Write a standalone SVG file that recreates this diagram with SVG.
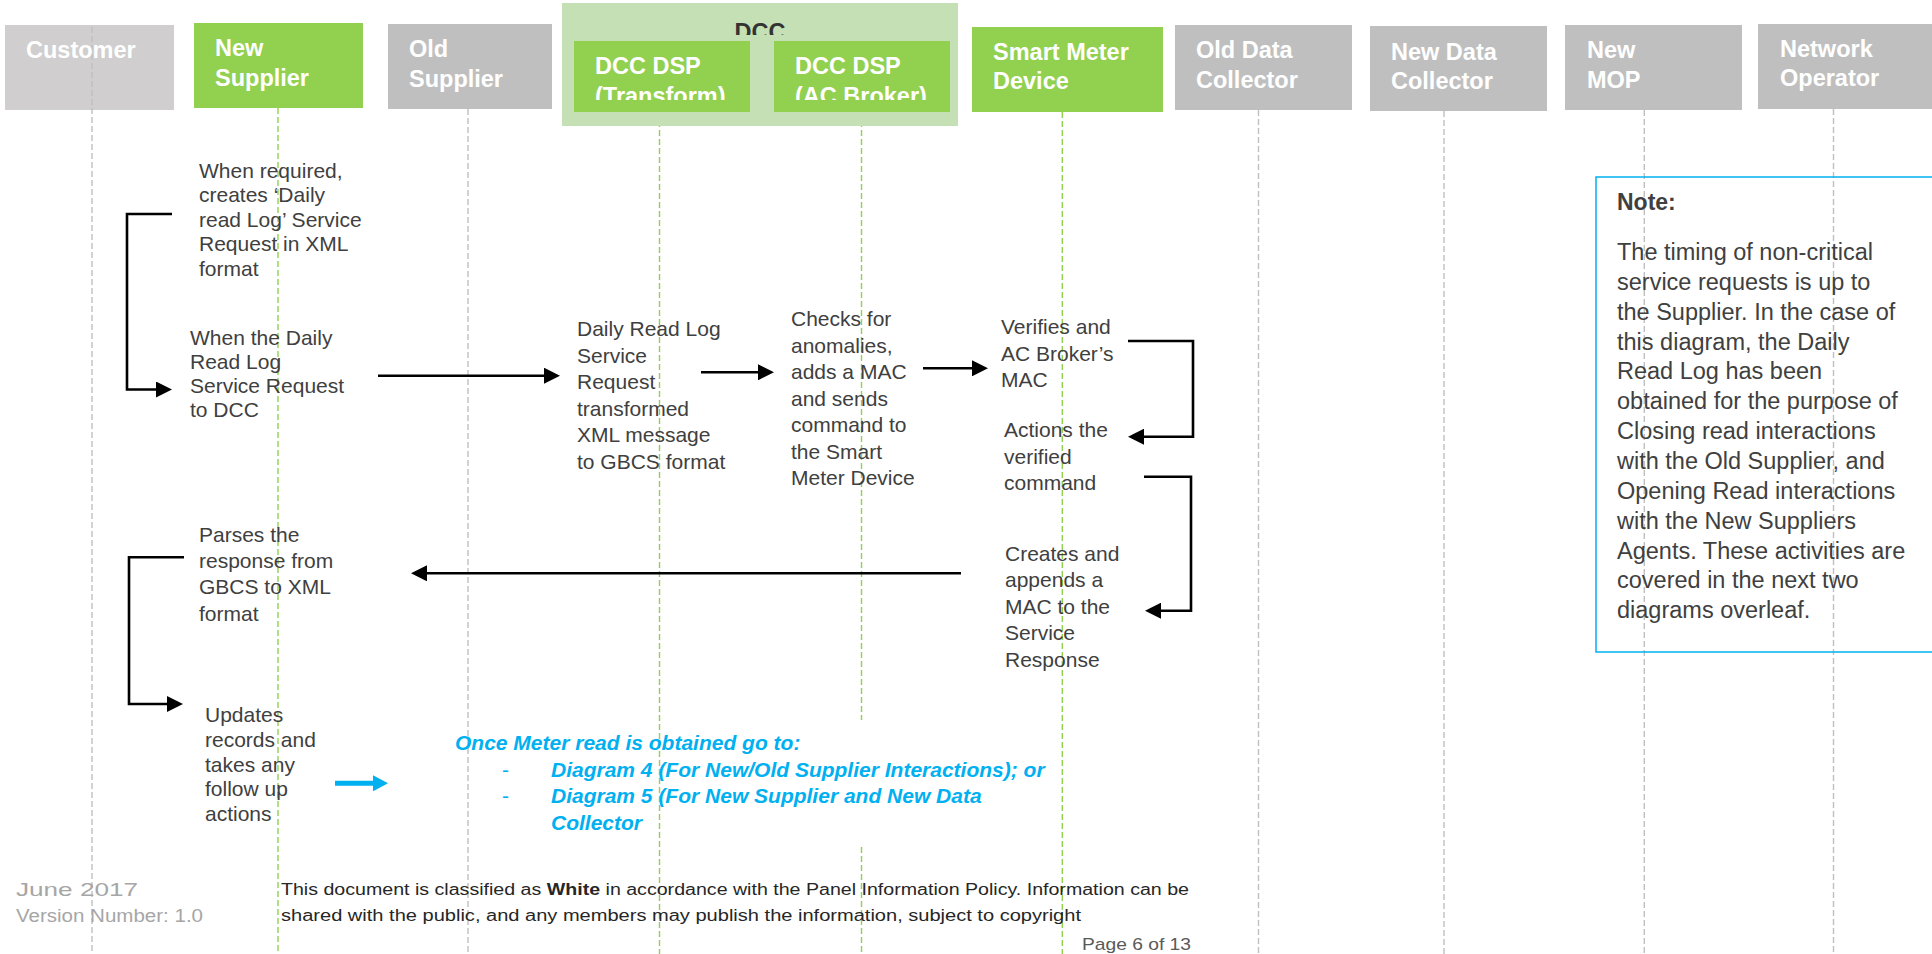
<svg xmlns="http://www.w3.org/2000/svg" width="1932" height="954" viewBox="0 0 1932 954">
<style>
.hdr{font-family:"Liberation Sans",Arial,sans-serif;font-weight:bold;font-size:23.5px;fill:#FFFFFF}
.body{font-family:"Liberation Sans",Arial,sans-serif;font-size:21px;fill:#404040}
.note{font-family:"Liberation Sans",Arial,sans-serif;font-size:23.5px;fill:#404040}
.blue{font-family:"Liberation Sans",Arial,sans-serif;font-size:21px;font-weight:bold;font-style:italic;fill:#00B0F0}
.foot{font-family:"Liberation Sans",Arial,sans-serif;font-size:16px}
.ll-g{stroke:#92D050;stroke-width:1.4;stroke-dasharray:6,3;fill:none}
.ll-x{stroke:#BFBFBF;stroke-width:1.4;stroke-dasharray:6,3;fill:none}
.arr{stroke:#000;stroke-width:2.6;fill:none;marker-end:url(#ah)}
</style>
<defs>
<marker id="ah" markerUnits="userSpaceOnUse" markerWidth="16" markerHeight="16" refX="8" refY="8" orient="auto">
<path d="M0,0 L16,8 L0,16 z" fill="#000"/>
</marker>
<marker id="ahb" markerUnits="userSpaceOnUse" markerWidth="16" markerHeight="16" refX="8" refY="8" orient="auto">
<path d="M0,0 L15,8 L0,16 z" fill="#00B0F0"/>
</marker>
<clipPath id="clipDcc"><rect x="562" y="0" width="396" height="35"/></clipPath>
<clipPath id="clipT"><rect x="574" y="41" width="176" height="59"/></clipPath>
<clipPath id="clipA"><rect x="774" y="41" width="176" height="59"/></clipPath>
</defs>
<rect width="1932" height="954" fill="#FFFFFF"/>

<g id="lifelines">
<line class="ll-x" x1="92" y1="27" x2="92" y2="954"/>
<line class="ll-g" x1="278" y1="108" x2="278" y2="954"/>
<line class="ll-x" x1="468" y1="109" x2="468" y2="954"/>
<line class="ll-g" x1="659.5" y1="112" x2="659.5" y2="954"/>
<line class="ll-g" x1="861.5" y1="112" x2="861.5" y2="720"/>
<line class="ll-g" x1="861.5" y1="847" x2="861.5" y2="954"/>
<line class="ll-g" x1="1062.3" y1="112" x2="1062.3" y2="954"/>
<line class="ll-x" x1="1258.5" y1="110" x2="1258.5" y2="954"/>
<line class="ll-x" x1="1444" y1="111" x2="1444" y2="954"/>
<line class="ll-x" x1="1644.3" y1="110" x2="1644.3" y2="954"/>
<line class="ll-x" x1="1833.5" y1="109" x2="1833.5" y2="954"/>
</g>

<g id="customer">
<rect x="5" y="25" width="169" height="85" fill="#D0CECE"/>
<line class="ll-x" x1="92" y1="27" x2="92" y2="110"/>
<text class="hdr" x="26" y="58">Customer</text>
</g>
<g id="new-supplier">
<rect x="194" y="23" width="169" height="85" fill="#92D050"/>
<text class="hdr" x="215" y="56">New</text>
<text class="hdr" x="215" y="86">Supplier</text>
</g>
<g id="old-supplier">
<rect x="388" y="24" width="164" height="85" fill="#BFBFBF"/>
<text class="hdr" x="409" y="56.5">Old</text>
<text class="hdr" x="409" y="87">Supplier</text>
</g>
<g id="dcc">
<rect x="562" y="3" width="396" height="123" fill="#C5E0B4"/>
<text class="hdr" x="760" y="40" text-anchor="middle" style="fill:#333333" clip-path="url(#clipDcc)">DCC</text>
</g>
<g id="dcc-dsp-transform">
<rect x="574" y="41" width="176" height="71" fill="#92D050"/>
<g clip-path="url(#clipT)">
<text class="hdr" x="595" y="74">DCC DSP</text>
<text class="hdr" x="595" y="104">(Transform)</text>
</g>
</g>
<g id="dcc-dsp-acbroker">
<rect x="774" y="41" width="176" height="71" fill="#92D050"/>
<g clip-path="url(#clipA)">
<text class="hdr" x="795" y="74">DCC DSP</text>
<text class="hdr" x="795" y="104">(AC Broker)</text>
</g>
</g>
<g id="smart-meter">
<rect x="972" y="27" width="191" height="85" fill="#92D050"/>
<text class="hdr" x="993" y="60">Smart Meter</text>
<text class="hdr" x="993" y="89">Device</text>
</g>
<g id="old-data-collector">
<rect x="1175" y="25" width="177" height="85" fill="#BFBFBF"/>
<text class="hdr" x="1196" y="58">Old Data</text>
<text class="hdr" x="1196" y="88">Collector</text>
</g>
<g id="new-data-collector">
<rect x="1370" y="26" width="177" height="85" fill="#BFBFBF"/>
<text class="hdr" x="1391" y="59.5">New Data</text>
<text class="hdr" x="1391" y="89">Collector</text>
</g>
<g id="new-mop">
<rect x="1565" y="25" width="177" height="85" fill="#BFBFBF"/>
<text class="hdr" x="1587" y="58">New</text>
<text class="hdr" x="1587" y="88">MOP</text>
</g>
<g id="network-operator">
<rect x="1758" y="24" width="190" height="85" fill="#BFBFBF"/>
<text class="hdr" x="1780" y="56.5">Network</text>
<text class="hdr" x="1780" y="86">Operator</text>
</g>

<g id="connectors">
<path class="arr" d="M172,214 L127,214 L127,389.5 L164,389.5"/>
<path class="arr" d="M378,375.7 L552,375.7"/>
<path class="arr" d="M701,372.3 L766,372.3"/>
<path class="arr" d="M923,368.3 L980,368.3"/>
<path class="arr" d="M1128,341 L1193,341 L1193,436.7 L1136,436.7"/>
<path class="arr" d="M1144,476.7 L1191,476.7 L1191,610.7 L1153,610.7"/>
<path class="arr" d="M961,573.3 L419,573.3"/>
<path class="arr" d="M184,557.3 L129,557.3 L129,704 L175,704"/>
<path d="M335,783.3 L381,783.3" stroke="#00B0F0" stroke-width="5" fill="none" marker-end="url(#ahb)"/>
</g>

<g id="step-create-request">
<text class="body" x="199" y="178">When required,<tspan x="199" dy="24.4">creates ‘Daily</tspan><tspan x="199" dy="24.4">read Log’ Service</tspan><tspan x="199" dy="24.4">Request in XML</tspan><tspan x="199" dy="24.4">format</tspan></text>
</g>
<g id="step-send-request">
<text class="body" x="190" y="345">When the Daily<tspan x="190" dy="24.1">Read Log</tspan><tspan x="190" dy="24.1">Service Request</tspan><tspan x="190" dy="24.1">to DCC</tspan></text>
</g>
<g id="step-transform">
<text class="body" x="577" y="336">Daily Read Log<tspan x="577" dy="26.5">Service</tspan><tspan x="577" dy="26.5">Request</tspan><tspan x="577" dy="26.5">transformed</tspan><tspan x="577" dy="26.5">XML message</tspan><tspan x="577" dy="26.5">to GBCS format</tspan></text>
</g>
<g id="step-check">
<text class="body" x="791" y="326">Checks for<tspan x="791" dy="26.5">anomalies,</tspan><tspan x="791" dy="26.5">adds a MAC</tspan><tspan x="791" dy="26.5">and sends</tspan><tspan x="791" dy="26.5">command to</tspan><tspan x="791" dy="26.5">the Smart</tspan><tspan x="791" dy="26.5">Meter Device</tspan></text>
</g>
<g id="step-verify">
<text class="body" x="1001" y="334.3">Verifies and<tspan x="1001" dy="26.2">AC Broker’s</tspan><tspan x="1001" dy="26.2">MAC</tspan></text>
</g>
<g id="step-action">
<text class="body" x="1004" y="437.3">Actions the<tspan x="1004" dy="26.4">verified</tspan><tspan x="1004" dy="26.4">command</tspan></text>
</g>
<g id="step-response">
<text class="body" x="1005" y="561">Creates and<tspan x="1005" dy="26.4">appends a</tspan><tspan x="1005" dy="26.4">MAC to the</tspan><tspan x="1005" dy="26.4">Service</tspan><tspan x="1005" dy="26.4">Response</tspan></text>
</g>
<g id="step-parse">
<text class="body" x="199" y="541.7">Parses the<tspan x="199" dy="26.3">response from</tspan><tspan x="199" dy="26.3">GBCS to XML</tspan><tspan x="199" dy="26.3">format</tspan></text>
</g>
<g id="step-update">
<text class="body" x="205" y="722.3">Updates<tspan x="205" dy="24.7">records and</tspan><tspan x="205" dy="24.7">takes any</tspan><tspan x="205" dy="24.7">follow up</tspan><tspan x="205" dy="24.7">actions</tspan></text>
</g>
<g id="next-steps">
<text class="blue" x="455" y="750">Once Meter read is obtained go to:</text>
<text class="blue" x="502" y="776.7" style="font-weight:normal;font-style:normal">-</text>
<text class="blue" x="551" y="776.7">Diagram 4 (For New/Old Supplier Interactions); or</text>
<text class="blue" x="502" y="803.3" style="font-weight:normal;font-style:normal">-</text>
<text class="blue" x="551" y="803.3">Diagram 5 (For New Supplier and New Data</text>
<text class="blue" x="551" y="830">Collector</text>
</g>
<g id="note">
<rect x="1596" y="177" width="345" height="475" fill="none" stroke="#00B0F0" stroke-width="1.5"/>
<text class="note" x="1617" y="210" style="font-weight:bold;font-size:23px">Note:</text>
<text class="note" x="1617" y="260">The timing of non-critical<tspan x="1617" dy="29.85">service requests is up to</tspan><tspan x="1617" dy="29.85">the Supplier. In the case of</tspan><tspan x="1617" dy="29.85">this diagram, the Daily</tspan><tspan x="1617" dy="29.85">Read Log has been</tspan><tspan x="1617" dy="29.85">obtained for the purpose of</tspan><tspan x="1617" dy="29.85">Closing read interactions</tspan><tspan x="1617" dy="29.85">with the Old Supplier, and</tspan><tspan x="1617" dy="29.85">Opening Read interactions</tspan><tspan x="1617" dy="29.85">with the New Suppliers</tspan><tspan x="1617" dy="29.85">Agents. These activities are</tspan><tspan x="1617" dy="29.85">covered in the next two</tspan><tspan x="1617" dy="29.85">diagrams overleaf.</tspan></text>
</g>
<g id="footer">
<text class="foot" x="16" y="896" fill="#A6A6A6" style="font-size:19px" textLength="122" lengthAdjust="spacingAndGlyphs">June 2017</text>
<text class="foot" x="16" y="922" fill="#A6A6A6" style="font-size:18px" textLength="187" lengthAdjust="spacingAndGlyphs">Version Number: 1.0</text>
<text class="foot" x="281" y="895" fill="#262626" textLength="908" lengthAdjust="spacingAndGlyphs">This document is classified as <tspan font-weight="bold">White</tspan> in accordance with the Panel Information Policy. Information can be</text>
<text class="foot" x="281" y="921" fill="#262626" textLength="800" lengthAdjust="spacingAndGlyphs">shared with the public, and any members may publish the information, subject to copyright</text>
<text class="foot" x="1082" y="950" fill="#595959" style="font-size:17px" textLength="109" lengthAdjust="spacingAndGlyphs">Page 6 of 13</text>
</g>
</svg>
